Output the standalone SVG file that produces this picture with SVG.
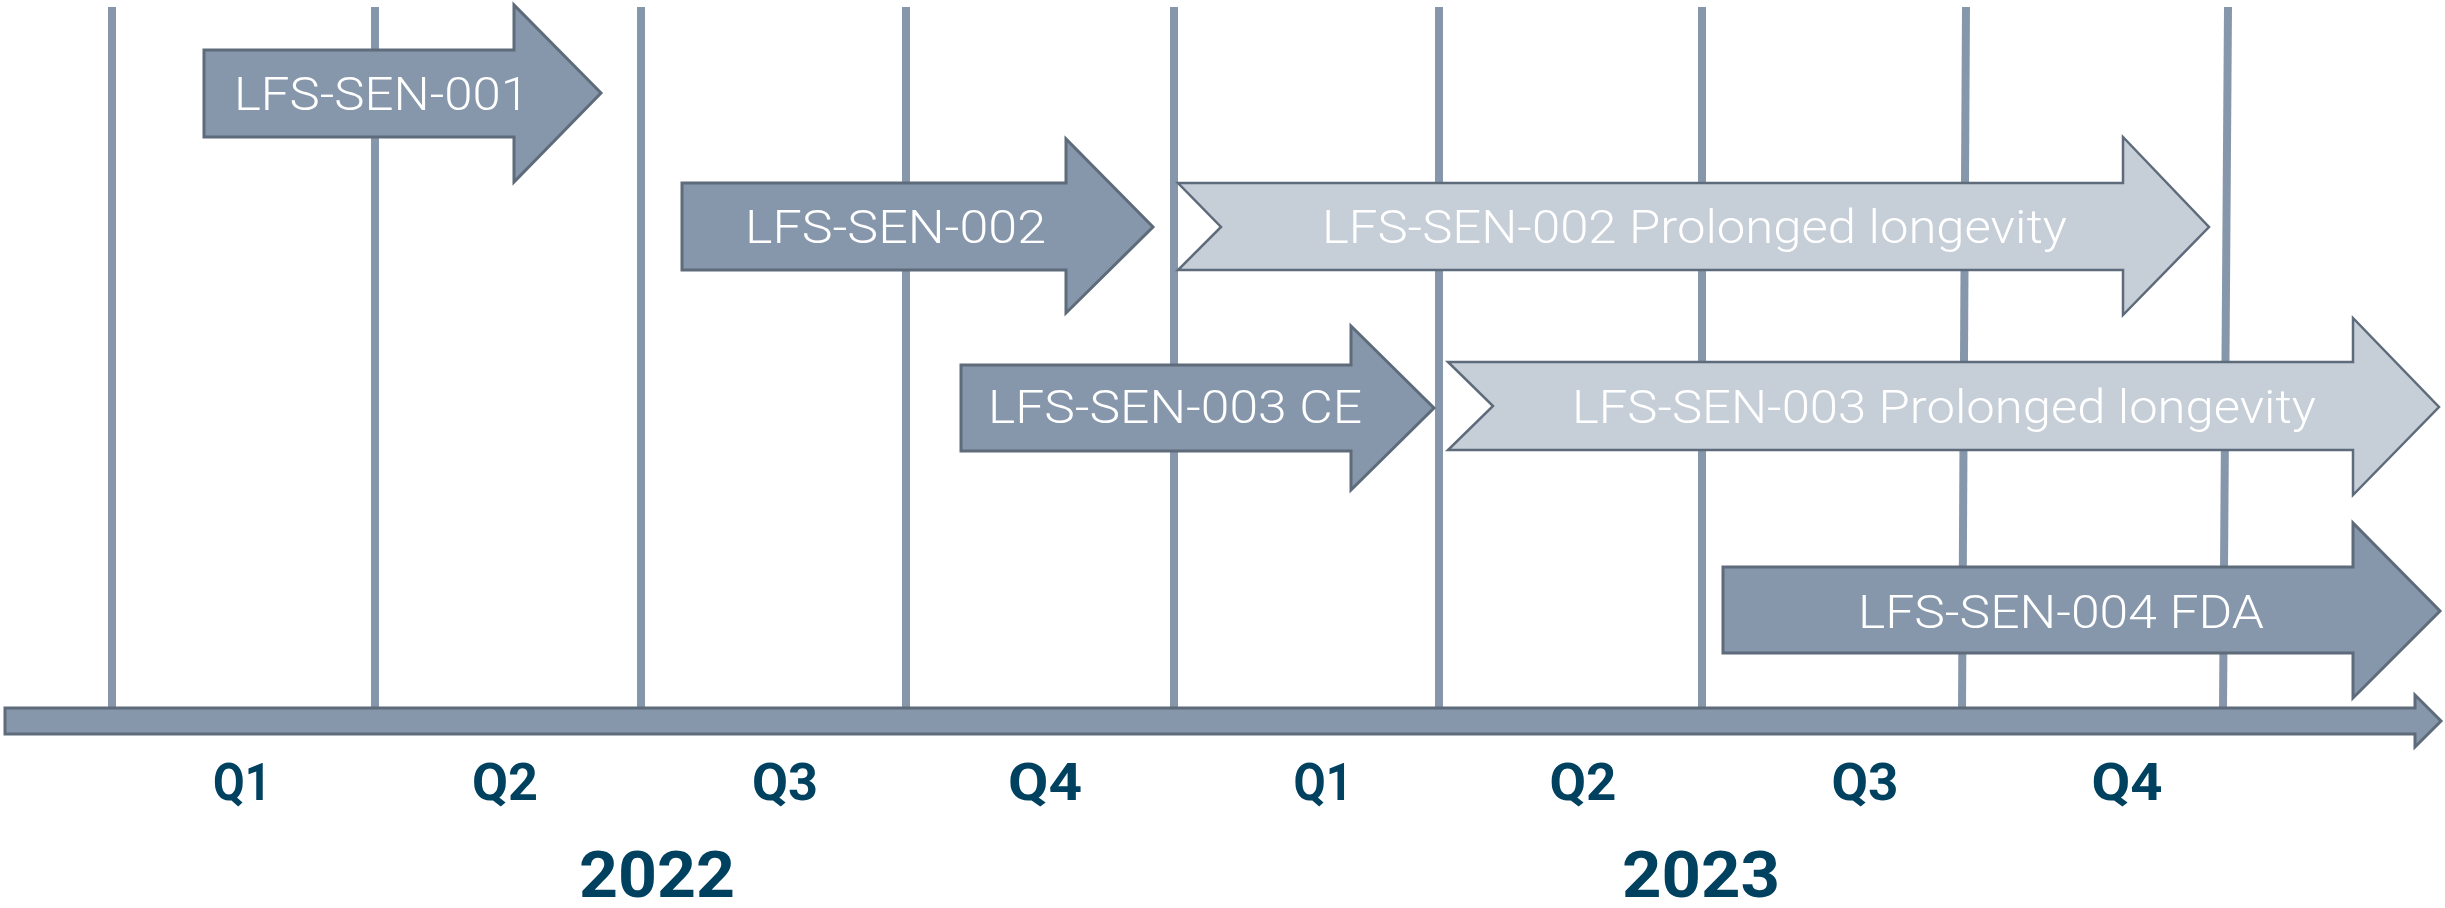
<svg xmlns="http://www.w3.org/2000/svg" width="2445" height="908" viewBox="0 0 2445 908">
<style>
.grid{stroke:#8797ab;stroke-width:8;fill:none}
.dark{fill:#8797ab;stroke:#5e6b7b;stroke-width:3;stroke-linejoin:miter}
.light{fill:#c6ced8;stroke:#5e6b7b;stroke-width:2.5;stroke-linejoin:miter}
.lbl{font-family:Roboto,"Liberation Sans",sans-serif;font-weight:300;font-size:46px;fill:#ffffff;text-anchor:middle}
.q{font-family:Roboto,"Liberation Sans",sans-serif;font-weight:700;font-size:52px;fill:#00415f;text-anchor:middle}
.yr{font-family:Roboto,"Liberation Sans",sans-serif;font-weight:700;font-size:64px;fill:#00415f;text-anchor:middle}
</style>
<rect width="2445" height="908" fill="#ffffff"/>
<g id="grid">
<line class="grid" x1="112" y1="7" x2="112" y2="710"/>
<line class="grid" x1="375" y1="7" x2="375" y2="710"/>
<line class="grid" x1="641" y1="7" x2="641" y2="710"/>
<line class="grid" x1="906" y1="7" x2="906" y2="710"/>
<line class="grid" x1="1174" y1="7" x2="1174" y2="710"/>
<line class="grid" x1="1439" y1="7" x2="1439" y2="710"/>
<line class="grid" x1="1702" y1="7" x2="1702" y2="710"/>
<line class="grid" x1="1966" y1="7" x2="1962" y2="710"/>
<line class="grid" x1="2228" y1="7" x2="2223" y2="710"/>
</g>
<g id="connectors">
<path id="axis" class="dark" d="M5,708 L2415,708 L2415,695 L2441,721 L2415,747 L2415,734 L5,734 Z"/>
</g>
<g id="node-001">
<path class="dark" d="M204,50 L514,50 L514,5 L601,93 L514,182 L514,137 L204,137 Z"/>
<text class="lbl" x="381.5" y="110" textLength="295" lengthAdjust="spacingAndGlyphs">LFS-SEN-001</text>
</g>
<g id="node-002">
<path class="dark" d="M682,183 L1066,183 L1066,139 L1153,227 L1066,313 L1066,270 L682,270 Z"/>
<text class="lbl" x="895.5" y="243" textLength="301" lengthAdjust="spacingAndGlyphs">LFS-SEN-002</text>
</g>
<g id="node-002-prolonged">
<path class="light" d="M1178,183 L2123,183 L2123,137 L2209,227 L2123,315 L2123,270 L1178,270 L1221,227 Z"/>
<text class="lbl" x="1694.5" y="243" textLength="745" lengthAdjust="spacingAndGlyphs">LFS-SEN-002 Prolonged longevity</text>
</g>
<g id="node-003-ce">
<path class="dark" d="M961,365 L1351,365 L1351,326 L1434,408 L1351,490 L1351,451 L961,451 Z"/>
<text class="lbl" x="1175" y="423" textLength="374" lengthAdjust="spacingAndGlyphs">LFS-SEN-003 CE</text>
</g>
<g id="node-003-prolonged">
<path class="light" d="M1448,362 L2353,362 L2353,318 L2439,407 L2353,495 L2353,450 L1448,450 L1493,406 Z"/>
<text class="lbl" x="1944" y="423" textLength="744" lengthAdjust="spacingAndGlyphs">LFS-SEN-003 Prolonged longevity</text>
</g>
<g id="node-004-fda">
<path class="dark" d="M1723,567 L2353,567 L2353,523 L2440,611 L2353,698 L2353,653 L1723,653 Z"/>
<text class="lbl" x="2061" y="628" textLength="406" lengthAdjust="spacingAndGlyphs">LFS-SEN-004 FDA</text>
</g>
<g id="quarters">
<text class="q" x="242" y="800" textLength="58" lengthAdjust="spacingAndGlyphs">Q1</text>
<text class="q" x="505" y="800" textLength="66" lengthAdjust="spacingAndGlyphs">Q2</text>
<text class="q" x="785" y="800" textLength="66" lengthAdjust="spacingAndGlyphs">Q3</text>
<text class="q" x="1045" y="800" textLength="74" lengthAdjust="spacingAndGlyphs">Q4</text>
<text class="q" x="1323" y="800" textLength="59" lengthAdjust="spacingAndGlyphs">Q1</text>
<text class="q" x="1583" y="800" textLength="67" lengthAdjust="spacingAndGlyphs">Q2</text>
<text class="q" x="1865" y="800" textLength="67" lengthAdjust="spacingAndGlyphs">Q3</text>
<text class="q" x="2127" y="800" textLength="71" lengthAdjust="spacingAndGlyphs">Q4</text>
</g>
<g id="years">
<text class="yr" x="657" y="897" textLength="156" lengthAdjust="spacingAndGlyphs">2022</text>
<text class="yr" x="1701" y="897" textLength="158" lengthAdjust="spacingAndGlyphs">2023</text>
</g>
</svg>
